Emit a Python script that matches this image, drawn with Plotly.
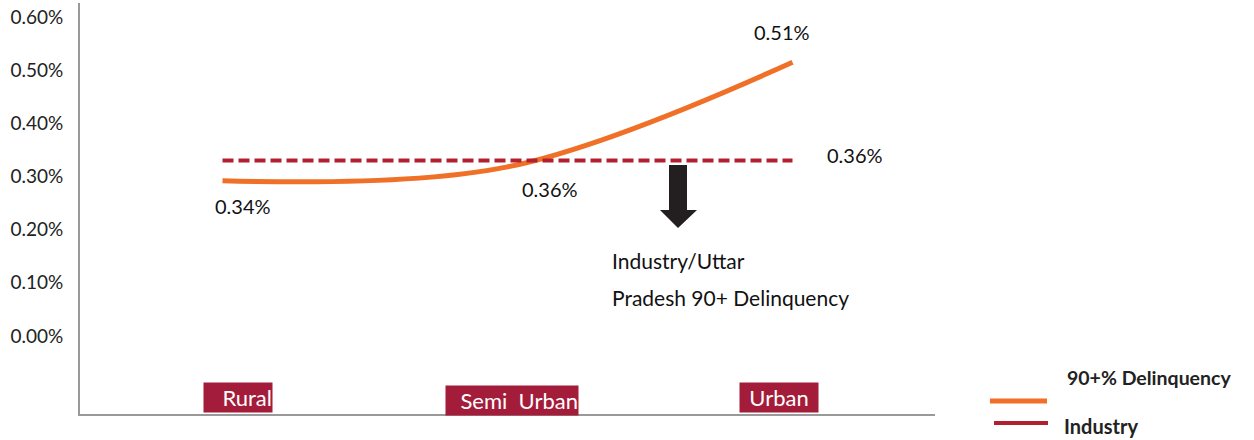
import plotly.graph_objects as go

# ---- data ----
categories = ["Rural", "Semi Urban", "Urban"]
delinquency = [0.00292, 0.00318, 0.00515]
industry = [0.0033, 0.0033, 0.0033]
delinq_labels = ["0.34%", "0.36%", "0.51%"]
industry_label = "0.36%"
y_ticks = [0.0, 0.001, 0.002, 0.003, 0.004, 0.005, 0.006]

FONT = "Lato"
ORANGE = "#F07028"
DRED = "#B2202F"
BOX = "#A31D3B"

# plot area in pixels
L, R, T, B = 80, 935, 3, 414
W, H = 1254, 440


def px(x):
    return (x - L) / (R - L)


def py(y):
    return (B - y) / (B - T)


xs = list(range(len(categories)))

fig = go.Figure()
fig.add_trace(go.Scatter(
    x=xs, y=delinquency, mode="lines", name="90+% Delinquency",
    line=dict(color=ORANGE, width=5, shape="spline", smoothing=1.0),
    showlegend=False, hoverinfo="skip"))
fig.add_trace(go.Scatter(
    x=xs, y=industry, mode="lines", name="Industry",
    line=dict(color=DRED, width=4, dash="11px,5px"),
    showlegend=False, hoverinfo="skip"))

annotations = []
# data labels
label_shifts = [(20, -25), (42, -22), (-11, 30)]
for i, (lab, (dx, dy)) in enumerate(zip(delinq_labels, label_shifts)):
    annotations.append(dict(x=xs[i], y=delinquency[i], xref="x", yref="y",
                            text=lab, showarrow=False, xshift=dx, yshift=dy,
                            xanchor="center", yanchor="middle",
                            font=dict(family=FONT, size=20, color="#111")))
annotations.append(dict(x=xs[-1], y=industry[-1], xref="x", yref="y",
                        text=industry_label, showarrow=False, xshift=62, yshift=6,
                        xanchor="center", yanchor="middle",
                        font=dict(family=FONT, size=20, color="#111")))

# category boxes
cat_shifts = [15, 4, -14]
cat_widths = [68, 132, 78]
cat_align = ["right", "right", "center"]
cat_y = [397.5, 400, 397.5]
cat_text = ["Rural", "Semi&nbsp; Urban", "Urban"]
for i, c in enumerate(cat_text):
    annotations.append(dict(x=xs[i], y=py(cat_y[i]), xref="x", yref="paper",
                            text=c, showarrow=False, xshift=cat_shifts[i],
                            xanchor="center", yanchor="middle",
                            width=cat_widths[i], align=cat_align[i], height=29,
                            bgcolor=BOX, borderpad=0,
                            font=dict(family=FONT, size=22, color="white")))

# industry text
annotations.append(dict(x=px(610), y=py(260), xref="paper", yref="paper",
                        text="Industry/Uttar", showarrow=False,
                        xanchor="left", yanchor="middle",
                        font=dict(family=FONT, size=21, color="#111")))
annotations.append(dict(x=px(610), y=py(297), xref="paper", yref="paper",
                        text="Pradesh 90+ Delinquency", showarrow=False,
                        xanchor="left", yanchor="middle",
                        font=dict(family=FONT, size=21, color="#111")))

# legend text
annotations.append(dict(x=px(1065), y=py(377), xref="paper", yref="paper",
                        text="<b>90+% Delinquency</b>", showarrow=False,
                        xanchor="left", yanchor="middle",
                        font=dict(family=FONT, size=19.5, color="#222")))
annotations.append(dict(x=px(1062), y=py(426), xref="paper", yref="paper",
                        text="<b>Industry</b>", showarrow=False,
                        xanchor="left", yanchor="middle",
                        font=dict(family=FONT, size=20, color="#222")))

shapes = []
# block arrow
pts = [(669, 165), (687, 165), (687, 210), (697, 210), (678, 228),
       (660, 210), (669, 210)]
path = "M " + " L ".join(f"{px(a):.5f},{py(b):.5f}" for a, b in pts) + " Z"
shapes.append(dict(type="path", xref="paper", yref="paper", path=path,
                   fillcolor="#231F20", line=dict(width=0)))
# legend samples
shapes.append(dict(type="line", xref="paper", yref="paper",
                   x0=px(990), x1=px(1047), y0=py(401), y1=py(401),
                   line=dict(color=ORANGE, width=5)))
shapes.append(dict(type="line", xref="paper", yref="paper",
                   x0=px(994), x1=px(1048), y0=py(423), y1=py(423),
                   line=dict(color=DRED, width=4)))

fig.update_layout(
    width=W, height=H,
    margin=dict(l=L, r=W - R, t=T, b=H - B),
    paper_bgcolor="white", plot_bgcolor="white",
    annotations=annotations, shapes=shapes,
    xaxis=dict(range=[-0.5, 2.5], showticklabels=False, showgrid=False,
               zeroline=False, showline=True, linecolor="#999", linewidth=2,
               ticks=""),
    yaxis=dict(range=[-0.001467, 0.006263], tickvals=y_ticks, tickformat=".2%",
               showgrid=False, zeroline=False, showline=True, linecolor="#999",
               linewidth=2, ticks="", ticklabelstandoff=11,
               tickfont=dict(family=FONT, size=19, color="#222")),
)

fig.write_html("out.html", config={"displayModeBar": False},
               post_script="document.body.style.margin='0';")
